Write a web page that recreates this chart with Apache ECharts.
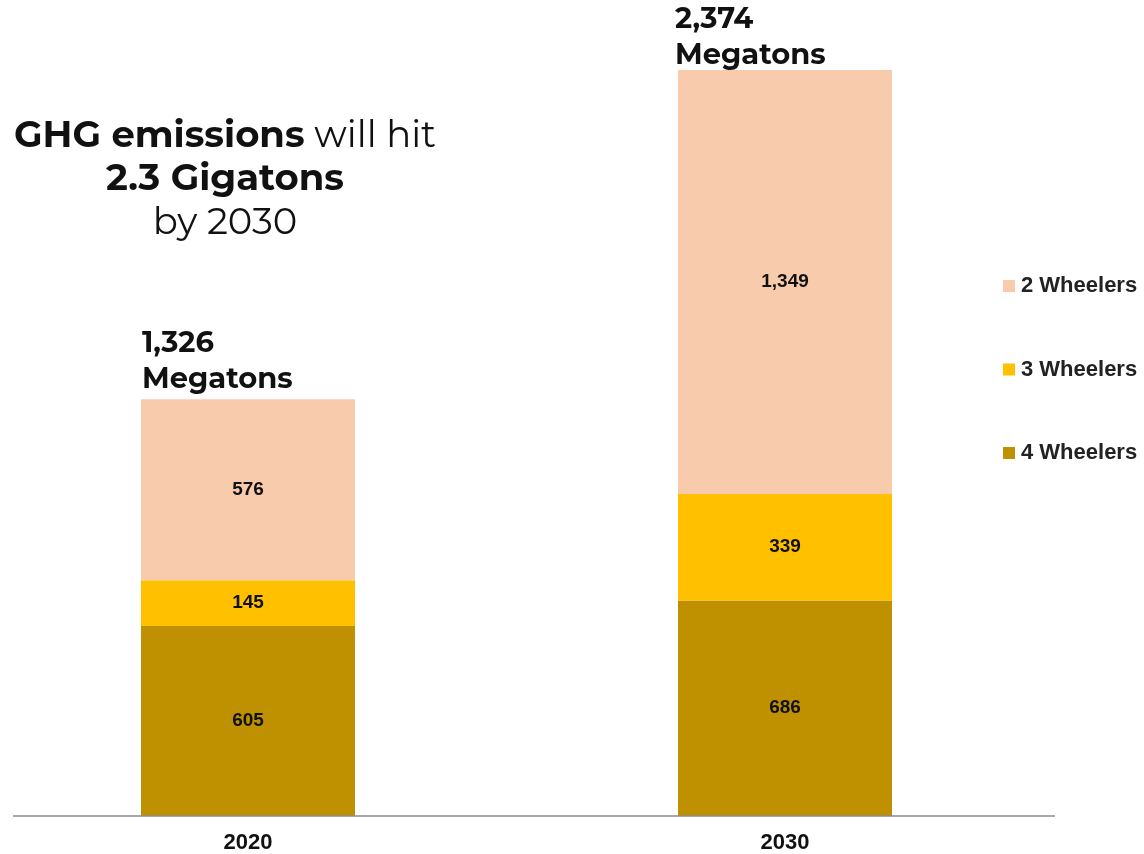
<!DOCTYPE html>
<html><head><meta charset="utf-8">
<script src="https://cdn.jsdelivr.net/npm/echarts@6/dist/echarts.min.js"></script>
<style>html,body{margin:0;padding:0;background:#fff}#c{width:1144px;height:854px}</style>
</head><body><div id="c"></div>
<script>
const categories = ['2020', '2030'];
const fourWheelers = [605, 686];
const threeWheelers = [145, 339];
const twoWheelers = [576, 1349];
const seriesNames = ['4 Wheelers', '3 Wheelers', '2 Wheelers'];
const legendOrder = ['2 Wheelers', '3 Wheelers', '4 Wheelers'];
const colors = ['#BF9000', '#FFC000', '#F8CBAD'];
const totals = categories.map((c, i) => fourWheelers[i] + threeWheelers[i] + twoWheelers[i]);

const fmt = v => v.toLocaleString('en-US');
const headFont = 'Montserrat, "Open Sans", sans-serif';
const arial = '"Liberation Sans", Arial, sans-serif';
const labelStyle = { show: true, position: 'inside', color: '#111', fontFamily: arial, fontWeight: 'bold', fontSize: 19, formatter: p => fmt(p.value) };

const chart = echarts.init(document.getElementById('c'), null, { renderer: 'canvas' });
const data = [fourWheelers, threeWheelers, twoWheelers];
const series = seriesNames.map((n, k) => ({
  name: n, type: 'bar', stack: 'total', barWidth: 214, clip: false,
  itemStyle: { color: colors[k] },
  label: labelStyle,
  emphasis: { disabled: true },
  data: data[k]
}));
const totalLabelDistance = [2, -3];
const totalLabelOffset = [[-106, 0], [-110, 0]];
series.push({
  name: 'Total', type: 'bar', stack: 'total', barWidth: 214, clip: false,
  data: totals.map((t, i) => ({ value: 0, label: { distance: totalLabelDistance[i], offset: totalLabelOffset[i] } })),
  itemStyle: { color: 'transparent' },
  emphasis: { disabled: true },
  label: {
    show: true, position: 'top', align: 'left',
    formatter: p => fmt(totals[p.dataIndex]) + '\nMegatons',
    fontFamily: headFont, fontWeight: 'bold', fontSize: 29, lineHeight: 36, color: '#111'
  }
});

chart.setOption({
  animation: false,
  backgroundColor: '#fff',
  title: {
    left: 225, top: 114, textAlign: 'center', padding: 0,
    text: '{b|GHG emissions}{r|\u00a0will hit}\n{b|2.3 Gigatons}\n{r|by 2030}',
    textStyle: {
      rich: {
        b: { fontFamily: headFont, fontWeight: 'bold', fontSize: 37, lineHeight: 43.5, color: '#111' },
        r: { fontFamily: headFont, fontWeight: 'normal', fontSize: 37, lineHeight: 43.5, color: '#111' }
      }
    }
  },
  legend: {
    data: legendOrder, orient: 'vertical', left: 1003, top: 275, itemGap: 61.5, padding: 0,
    itemWidth: 12, itemHeight: 12, icon: 'rect',
    textStyle: { fontFamily: arial, fontWeight: 'bold', fontSize: 22, color: '#222', padding: [0, 0, 0, 1] }
  },
  grid: { left: 248, right: 359, top: 70, bottom: 38 },
  xAxis: {
    type: 'category', data: categories, boundaryGap: false,
    axisLine: { show: false }, axisTick: { show: false },
    axisLabel: { margin: 16, color: '#111', fontFamily: arial, fontWeight: 'bold', fontSize: 22 }
  },
  yAxis: { type: 'value', min: 0, max: totals[1], show: false, splitLine: { show: false } },
  graphic: [{ type: 'line', shape: { x1: 13, y1: 816, x2: 1055, y2: 816 }, style: { stroke: '#8c8c8c', lineWidth: 1.5 }, z: 10 }],
  series: series
});
</script></body></html>
